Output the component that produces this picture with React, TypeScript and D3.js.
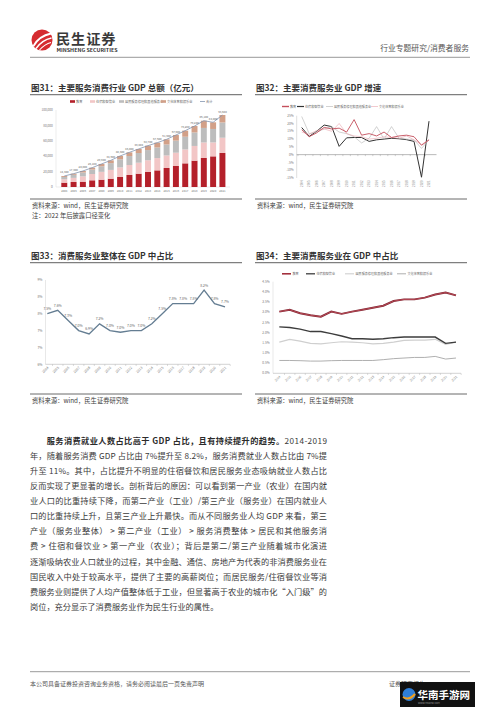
import React from 'react';
import * as d3 from 'd3';

const FONT = '"Noto Sans CJK SC", "Noto Sans", "Liberation Sans", sans-serif';

const years = ['2004','2005','2006','2007','2008','2009','2010','2011','2012','2013','2014','2015','2016','2017','2018','2019','2020','2021'];

// 图31 GDP 总额（亿元）
const eduGDP = [5600, 6500, 6900, 8700, 9500, 10800, 13000, 15600, 17300, 19500, 21600, 24700, 27300, 30700, 34200, 37700, 39800, 44200];
const lodgingGDP = [4470, 5340, 6900, 8160, 10200, 11400, 12460, 12950, 14250, 15230, 15940, 16280, 17240, 18060, 19120, 20130, 18100, 19800];
const residentGDP = [3000, 3960, 5030, 5850, 7210, 8770, 10550, 11650, 12570, 13220, 13780, 14230, 15690, 16530, 17510, 18880, 17480, 19800];
const cultureGDP = [1230, 1500, 1970, 2390, 2990, 3630, 4290, 4800, 5280, 5750, 6280, 6690, 7270, 7910, 8370, 9390, 8620, 9700];
const gdpTicks = [0, 20000, 40000, 60000, 80000, 100000];

// 图32 GDP 增速（%）
const eduGrowth = [16.0, 11.5, 14.0, 17.5, 16.5, 17.0, 14.5, 22.5, 12.5, 13.5, 12.0, 14.5, 11.0, 12.0, 12.5, 11.5, 6.0, 9.5];
const lodgingGrowth = [17.4, 11.7, 15.0, 19.0, 18.0, 5.3, 10.8, 11.0, 11.0, 8.5, 9.5, 10.0, 10.5, 10.2, 9.6, 8.5, -14.5, 21.5];
const residentGrowth = [24.5, 13.5, 14.5, 16.5, 18.0, 14.5, 13.5, 11.5, 7.5, 10.5, 18.0, 10.0, 18.0, 10.5, 10.0, 9.5, 4.0, 9.5];
const cultureGrowth = [14.5, 13.0, 15.5, 16.5, 15.0, 20.0, 13.5, 12.0, 11.5, 10.0, 10.5, 11.5, 11.0, 10.5, 12.0, 9.5, 6.5, 9.5];
const growthTicks = [-15, -10, -5, 0, 5, 10, 15, 20, 25];

// 图33 消费服务业整体在 GDP 中占比（%）
const totalShare = [7.5, 7.6, 7.3, 7.0, 6.9, 7.2, 7.0, 6.95, 7.0, 7.0, 7.2, 7.5, 7.8, 7.8, 7.8, 8.2, 7.8, 7.7];
const totalShareLabels = ['7.5%', '7.6%', '7.3%', '7.0%', '6.9%', '7.2%', '7.0%', '7.0%', '7.0%', '7.0%', '7.2%', '7.5%', '7.8%', '7.8%', '7.8%', '8.2%', '7.8%', '7.7%'];
const shareTicks = [6.0, 6.5, 7.0, 7.5, 8.0, 8.5];
const shareTickLabels = ['6%', '7%', '7%', '8%', '8%', '9%'];

// 图34 主要消费服务业在 GDP 中占比（%）
const eduShare = [3.03, 3.12, 2.95, 2.85, 2.78, 3.03, 2.92, 3.03, 3.12, 3.22, 3.32, 3.55, 3.63, 3.63, 3.72, 3.87, 3.97, 3.83];
const lodgingShare = [2.28, 2.25, 2.17, 2.05, 2.05, 1.95, 1.83, 1.70, 1.70, 1.67, 1.70, 1.75, 1.78, 1.78, 1.78, 1.78, 1.47, 1.53];
const residentShare = [1.53, 1.67, 1.58, 1.47, 1.45, 1.50, 1.55, 1.53, 1.50, 1.45, 1.47, 1.53, 1.62, 1.63, 1.63, 1.67, 1.42, 1.53];
const cultureShare = [0.63, 0.63, 0.62, 0.60, 0.60, 0.62, 0.63, 0.63, 0.63, 0.63, 0.67, 0.72, 0.75, 0.78, 0.78, 0.83, 0.70, 0.75];
const share4Ticks = [0, 0.5, 1.0, 1.5, 2.0, 2.5, 3.0, 3.5, 4.0, 4.5];

const seriesNames = ['教育', '住宿和餐饮业', '居民服务修理和其他服务业', '文化体育和娱乐业'];

const bodyFirstBold = '服务消费就业人数占比高于 GDP 占比，且有持续提升的趋势。';
const bodyFirstRest = '2014-2019';
const bodyLines = [
  '年，随着服务消费 GDP 占比由 7%提升至 8.2%，服务消费就业人数占比由 7%提',
  '升至 11%。其中，占比提升不明显的住宿餐饮和居民服务业态吸纳就业人数占比',
  '反而实现了更显著的增长。剖析背后的原因：可以看到第一产业（农业）在国内就',
  '业人口的比重持续下降，而第二产业（工业）/第三产业（服务业）在国内就业人',
  '口的比重持续上升，且第三产业上升最快。而从不同服务业人均 GDP 来看，第三',
  '产业（服务业整体） > 第二产业（工业） > 服务消费整体 > 居民和其他服务消',
  '费 > 住宿和餐饮业 > 第一产业（农业）；背后是第二/第三产业随着城市化演进',
  '逐渐吸纳农业人口就业的过程，其中金融、通信、房地产为代表的非消费服务业在',
  '国民收入中处于较高水平，提供了主要的高薪岗位；而居民服务/住宿餐饮业等消',
  '费服务业则提供了人均产值整体低于工业，但显著高于农业的城市化“入门级”的',
  '岗位，充分显示了消费服务业作为民生行业的属性。',
];

function SectionTitle({ x, y, x2, text }) {
  return (
    <g>
      <text x={x + 1} y={y} fontSize={8.5} fontWeight="bold" fill="#333">{text}</text>
      <line x1={x} x2={x2} y1={y + 3.6} y2={y + 3.6} stroke="#7f7f7f" strokeWidth={1.3} />
    </g>
  );
}

function Source({ x, y, x2, lines }) {
  return (
    <g>
      <line x1={x} x2={x2} y1={y} y2={y} stroke="#595959" strokeWidth={0.9} />
      {lines.map((l, i) => (
        <text key={i} x={x + 2} y={y + 8.5 + i * 10} fontSize={6.3} fill="#404040">{l}</text>
      ))}
    </g>
  );
}

function Header() {
  return (
    <g>
      <circle cx={42} cy={40} r={10.5} fill="#d52b30" />
      <path d="M33.5,46 Q39,36 51,33.5" stroke="#fff" strokeWidth={1.8} fill="none" />
      <path d="M36,48.5 Q42,40 51.5,38" stroke="#fff" strokeWidth={1.4} fill="none" />
      <path d="M39.5,50 Q45,44 51,42.5" stroke="#fff" strokeWidth={1.1} fill="none" />
      <text x={56} y={44} fontSize={14.2} fontWeight="bold" fill="#3a3a3a" letterSpacing={0.9}>民生证券</text>
      <text x={56.5} y={52} fontSize={4.4} fontWeight="bold" fill="#333" textLength={61} lengthAdjust="spacingAndGlyphs">MINSHENG SECURITIES</text>
      <text x={469} y={51} fontSize={7.8} fill="#555" textAnchor="end">行业专题研究/消费者服务</text>
      <line x1={30} x2={470} y1={57.3} y2={57.3} stroke="#7f7f7f" strokeWidth={0.8} />
    </g>
  );
}

function Chart31() {
  const x = d3.scaleBand().domain(years).range([57.95, 228.75]).padding(0.36);
  const y = d3.scaleLinear().domain([0, 100000]).range([187, 110]);
  const rows = years.map((yr, i) => ({ year: yr, edu: eduGDP[i], lodging: lodgingGDP[i], resident: residentGDP[i], culture: cultureGDP[i] }));
  const keys = ['edu', 'lodging', 'resident', 'culture'];
  const colors = { edu: '#b4202a', lodging: '#f2c6c6', resident: '#bdbdbd', culture: '#d2a088' };
  const stacked = d3.stack().keys(keys)(rows);
  const totals = rows.map(r => r.edu + r.lodging + r.resident + r.culture);
  const cx = (yr) => x(yr) + x.bandwidth() / 2;
  const line = d3.line().x((d, i) => cx(years[i])).y(d => y(d));
  const fmt = d3.format(',');
  const legend = [
    { x: 70, kind: 'rect', color: colors.edu, label: seriesNames[0] },
    { x: 90, kind: 'rect', color: colors.lodging, label: seriesNames[1] },
    { x: 119, kind: 'rect', color: colors.resident, label: seriesNames[2] },
    { x: 161, kind: 'rect', color: colors.culture, label: seriesNames[3] },
    { x: 200, kind: 'line', color: '#8496b0', label: '合计' },
  ];
  return (
    <g>
      <SectionTitle x={30} y={91} x2={242} text="图31：主要服务消费行业 GDP 总额（亿元）" />
      {legend.map((l, i) => (
        <g key={i}>
          {l.kind === 'rect'
            ? <rect x={l.x} y={100.2} width={5} height={2.6} fill={l.color} />
            : <line x1={l.x} x2={l.x + 5} y1={101.5} y2={101.5} stroke={l.color} strokeWidth={0.8} />}
          <text x={l.x + 6} y={102.6} fontSize={3.2} fill="#666">{l.label}</text>
        </g>
      ))}
      <line x1={56} x2={56} y1={110} y2={187} stroke="#d9d9d9" strokeWidth={0.5} />
      <line x1={56} x2={230} y1={187} y2={187} stroke="#d9d9d9" strokeWidth={0.5} />
      {gdpTicks.map(t => (
        <text key={t} x={52.7} y={y(t) + 1.1} fontSize={3.1} fill="#777" textAnchor="end">{fmt(t)}</text>
      ))}
      {stacked.map(s => (
        <g key={s.key}>
          {s.map((d, i) => (
            <rect key={i} x={x(years[i])} width={x.bandwidth()} y={y(d[1])} height={y(d[0]) - y(d[1])} fill={colors[s.key]} />
          ))}
        </g>
      ))}
      <path d={line(totals)} fill="none" stroke="#8496b0" strokeWidth={0.8} />
      {totals.map((t, i) => (
        <text key={i} x={cx(years[i])} y={y(t) - 2.5} fontSize={2.8} fill="#666" textAnchor="middle">{fmt(t)}</text>
      ))}
      {years.map(yr => (
        <text key={yr} x={cx(yr)} y={191.5} fontSize={2.8} fill="#777" textAnchor="middle">{yr}</text>
      ))}
      <Source x={30} y={199} x2={242} lines={['资料来源：wind，民生证券研究院', '注：2022 年后披露口径变化']} />
    </g>
  );
}

function Chart32() {
  const x = d3.scalePoint().domain(years).range([301.7, 429]);
  const y = d3.scaleLinear().domain([-15, 25]).range([178, 115.7]);
  const series = [
    { data: lodgingGrowth, color: '#333333', w: 1.0 },
    { data: residentGrowth, color: '#b4b4b4', w: 0.6 },
    { data: cultureGrowth, color: '#eaa6ae', w: 0.6 },
    { data: eduGrowth, color: '#c44f5c', w: 0.9 },
  ];
  const line = d3.line().x((d, i) => x(years[i])).y(d => y(d));
  const legend = [
    { x: 282, color: '#c44f5c', w: 1.4, label: seriesNames[0] },
    { x: 297, color: '#333333', w: 1.2, label: seriesNames[1] },
    { x: 326, color: '#b4b4b4', w: 0.6, label: seriesNames[2] },
    { x: 371, color: '#eaa6ae', w: 0.6, label: seriesNames[3] },
  ];
  const step = x.step();
  return (
    <g>
      <SectionTitle x={255} y={91} x2={467} text="图32：主要消费服务业 GDP 增速" />
      {legend.map((l, i) => (
        <g key={i}>
          <line x1={l.x} x2={l.x + 7} y1={106.5} y2={106.5} stroke={l.color} strokeWidth={l.w} />
          <text x={l.x + 8} y={107.6} fontSize={3.1} fill="#666">{l.label}</text>
        </g>
      ))}
      <line x1={296.7} x2={296.7} y1={115.7} y2={178} stroke="#bfbfbf" strokeWidth={0.5} />
      {growthTicks.map(t => (
        <text key={t} x={293.5} y={y(t) + 1.1} fontSize={3.1} fill="#777" textAnchor="end">{t}%</text>
      ))}
      <line x1={296.7} x2={436.5} y1={y(0)} y2={y(0)} stroke="#8c8c8c" strokeWidth={0.6} />
      {years.map((yr, i) => (
        <line key={yr} x1={x(yr) - step / 2} x2={x(yr) - step / 2} y1={y(0)} y2={y(0) + 1.5} stroke="#8c8c8c" strokeWidth={0.4} />
      ))}
      {series.map((s, i) => (
        <path key={i} d={line(s.data)} fill="none" stroke={s.color} strokeWidth={s.w} />
      ))}
      {years.map(yr => (
        <text key={yr} transform={`translate(${x(yr) + 1},${180.5}) rotate(-90)`} fontSize={2.9} fill="#777" textAnchor="end">{yr}</text>
      ))}
      <Source x={255} y={199} x2={467} lines={['资料来源：wind，民生证券研究院']} />
    </g>
  );
}

function Chart33() {
  const x = d3.scalePoint().domain(years).range([47.3, 225]);
  const y = d3.scaleLinear().domain([6, 8.5]).range([364.3, 280]);
  const line = d3.line().x((d, i) => x(years[i])).y(d => y(d));
  const step = x.step();
  return (
    <g>
      <SectionTitle x={30} y={259} x2={242} text="图33：消费服务业整体在 GDP 中占比" />
      <line x1={45.5} x2={45.5} y1={280} y2={364.3} stroke="#d0d0d0" strokeWidth={0.5} />
      {shareTicks.map((t, i) => (
        <text key={t} x={42.5} y={y(t) + 1.2} fontSize={3.4} fill="#777" textAnchor="end">{shareTickLabels[i]}</text>
      ))}
      <line x1={45.5} x2={230} y1={364.3} y2={364.3} stroke="#a6a6a6" strokeWidth={0.5} />
      {years.map(yr => (
        <line key={yr} x1={x(yr) + step / 2} x2={x(yr) + step / 2} y1={364.3} y2={366} stroke="#a6a6a6" strokeWidth={0.4} />
      ))}
      <path d={line(totalShare)} fill="none" stroke="#647d92" strokeWidth={1.3} />
      {totalShare.map((v, i) => (
        <text key={i} x={x(years[i])} y={y(v) - 3.5} fontSize={3.4} fill="#666" textAnchor="middle">{totalShareLabels[i]}</text>
      ))}
      {years.map(yr => (
        <text key={yr} transform={`translate(${x(yr) + 1.5},${368}) rotate(-45)`} fontSize={3.4} fill="#777" textAnchor="end">{yr}</text>
      ))}
      <Source x={30} y={394} x2={242} lines={['资料来源：wind，民生证券研究院']} />
    </g>
  );
}

function Chart34() {
  const x = d3.scalePoint().domain(years).range([279.3, 456]);
  const y = d3.scaleLinear().domain([0, 4.5]).range([373.3, 281.7]);
  const line = d3.line().x((d, i) => x(years[i])).y(d => y(d));
  const step = x.step();
  const legend = [
    { x: 282, color: '#a3303d', w: 1.6, label: seriesNames[0] },
    { x: 306, color: '#3d3d3d', w: 1.3, label: seriesNames[1] },
    { x: 345, color: '#cfcfcf', w: 1.1, label: seriesNames[2] },
    { x: 397, color: '#a6a6a6', w: 0.9, label: seriesNames[3] },
  ];
  return (
    <g>
      <SectionTitle x={255} y={259} x2={467} text="图34：主要消费服务业在 GDP 中占比" />
      {legend.map((l, i) => (
        <g key={i}>
          <line x1={l.x} x2={l.x + 9} y1={273.8} y2={273.8} stroke={l.color} strokeWidth={l.w} />
          <text x={l.x + 10.5} y={275} fontSize={3.1} fill="#666">{l.label}</text>
        </g>
      ))}
      <line x1={273} x2={273} y1={281.7} y2={373.3} stroke="#d0d0d0" strokeWidth={0.5} />
      {share4Ticks.map(t => (
        <text key={t} x={269.5} y={y(t) + 1.1} fontSize={3.1} fill="#777" textAnchor="end">{t.toFixed(1)}%</text>
      ))}
      <line x1={273} x2={461} y1={373.3} y2={373.3} stroke="#a6a6a6" strokeWidth={0.5} />
      {years.map(yr => (
        <line key={yr} x1={x(yr) + step / 2} x2={x(yr) + step / 2} y1={373.3} y2={375} stroke="#a6a6a6" strokeWidth={0.4} />
      ))}
      <path d={line(cultureShare)} fill="none" stroke="#a6a6a6" strokeWidth={0.9} />
      <path d={line(residentShare)} fill="none" stroke="#cfcfcf" strokeWidth={1.2} />
      <path d={line(lodgingShare)} fill="none" stroke="#3d3d3d" strokeWidth={1.4} />
      <path d={line(eduShare)} fill="none" stroke="#7e2632" strokeWidth={1.9} />
      <path d={line(eduShare)} fill="none" stroke="#cf5764" strokeWidth={0.7} />
      {years.map(yr => (
        <text key={yr} transform={`translate(${x(yr) + 1.5},${377}) rotate(-45)`} fontSize={3.1} fill="#777" textAnchor="end">{yr}</text>
      ))}
      <Source x={255} y={394} x2={467} lines={['资料来源：wind，民生证券研究院']} />
    </g>
  );
}

function Body() {
  const x0 = 30, x1 = 327, y0 = 443.7, lh = 15.1, fs = 8.2;
  return (
    <g fontSize={fs} fill="#3b3b3b">
      <text x={46.7} y={y0} textLength={x1 - 46.7} lengthAdjust="spacing">
        <tspan fontWeight="bold" fill="#2b2b2b">{bodyFirstBold}</tspan>
        <tspan>{bodyFirstRest}</tspan>
      </text>
      {bodyLines.map((l, i) => (
        <text key={i} x={x0} y={y0 + (i + 1) * lh}
          textLength={i < bodyLines.length - 1 ? x1 - x0 : undefined}
          lengthAdjust="spacing">{l}</text>
      ))}
    </g>
  );
}

function Footer() {
  return (
    <g>
      <line x1={30} x2={470} y1={671.7} y2={671.7} stroke="#7f7f7f" strokeWidth={0.8} />
      <text x={30} y={685.5} fontSize={6} fill="#555">本公司具备证券投资咨询业务资格，请务必阅读最后一页免责声明</text>
      <text x={389} y={685.5} fontSize={6} fill="#555">证券研究报告</text>
      <rect x={400} y={682} width={75} height={25} fill="#111" />
      <circle cx={409} cy={694.5} r={6.5} fill="#2f7fd8" />
      <path d="M403,697 Q409,701 415,694" stroke="#f0a020" strokeWidth={2} fill="none" />
      <text x={417.5} y={698.5} fontSize={10.5} fontWeight="bold" fill="#fff">华南手游网</text>
      <text x={418} y={704} fontSize={2.5} fill="#999">WWW.HNSYW.COM</text>
    </g>
  );
}

export default function App() {
  return (
    <svg width={500} height={707} viewBox="0 0 500 707"
      style={{ position: 'absolute', left: 0, top: 0, background: '#fff' }}
      fontFamily={FONT}>
      <rect width={500} height={707} fill="#fff" />
      <Header />
      <Chart31 />
      <Chart32 />
      <Chart33 />
      <Chart34 />
      <Body />
      <Footer />
    </svg>
  );
}
